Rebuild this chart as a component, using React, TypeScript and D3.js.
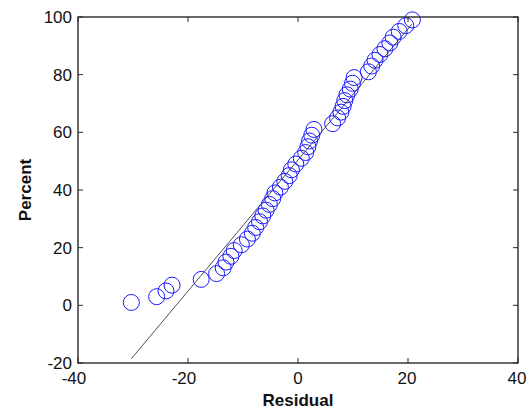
import React from "react";
import * as d3 from "d3";

const percents = [1, 3, 5, 7, 9, 11, 13, 15, 17, 19, 21, 23, 25, 27, 29, 31, 33, 35, 37, 39, 41, 43, 45, 47, 49, 51, 53, 55, 57, 59, 61, 63, 65, 67, 69, 71, 73, 75, 77, 79, 81, 83, 85, 87, 89, 91, 93, 95, 97, 99];
const residuals = [-30.3, -25.7, -24.0, -22.9, -17.6, -14.8, -13.6, -13.1, -12.2, -11.6, -10.3, -9.2, -8.3, -7.7, -7.0, -6.4, -5.8, -5.2, -4.6, -4.2, -3.2, -2.4, -1.6, -1.2, -0.4, 0.6, 1.4, 1.8, 2.1, 2.5, 2.9, 6.3, 7.2, 7.8, 8.2, 8.5, 8.9, 9.5, 9.9, 10.2, 12.8, 13.4, 14.0, 14.9, 15.8, 16.7, 17.3, 18.4, 19.6, 20.8];
const fitLineX = [-30.3, 20.7];
const fitLineY = [-18.5, 97.5];
const xTicks = [-40, -20, 0, 20, 40];
const yTicks = [-20, 0, 20, 40, 60, 80, 100];

const W = 532;
const H = 412;
const left = 78, right = 518, top = 17, bottom = 363;

export default function App() {
  const x = d3.scaleLinear().domain([-40, 40]).range([left, right]);
  const y = d3.scaleLinear().domain([-20, 100]).range([bottom, top]);
  const line = d3.line<number>().x((d, i) => x(fitLineX[i])).y((d, i) => y(fitLineY[i]));
  const font = "Liberation Sans, Arial, Helvetica, sans-serif";
  const axisColor = "#2a2a2a";
  const tickLen = 5;
  return (
    <svg width={W} height={H} style={{ position: "absolute", left: 0, top: 0, background: "#fff" }}>
      <rect x={0} y={0} width={W} height={H} fill="#fff" />
      <path d={line(fitLineY) || ""} fill="none" stroke="#222" strokeWidth={0.8} />
      {residuals.map((r, i) => (
        <circle key={i} cx={x(r)} cy={y(percents[i])} r={8} fill="none" stroke="#1a1aff" strokeWidth={1} />
      ))}
      <rect x={left} y={top} width={right - left} height={bottom - top} fill="none" stroke={axisColor} strokeWidth={1.4} />
      {xTicks.map((t) => (
        <g key={"x" + t}>
          <line x1={x(t)} x2={x(t)} y1={bottom} y2={bottom - tickLen} stroke={axisColor} strokeWidth={1} />
          <line x1={x(t)} x2={x(t)} y1={top} y2={top + tickLen} stroke={axisColor} strokeWidth={1} />
          <text x={x(t)} dx={t < 0 ? -4 : t > 0 ? -1 : 0} y={384} textAnchor="middle" fontFamily={font} fontSize={17} fill="#111">
            {t < 0 ? "-" + Math.abs(t) : String(t)}
          </text>
        </g>
      ))}
      {yTicks.map((t) => (
        <g key={"y" + t}>
          <line x1={left} x2={left + tickLen} y1={y(t)} y2={y(t)} stroke={axisColor} strokeWidth={1} />
          <line x1={right} x2={right - tickLen} y1={y(t)} y2={y(t)} stroke={axisColor} strokeWidth={1} />
          <text x={72} y={y(t)} dy="0.36em" textAnchor="end" fontFamily={font} fontSize={17} fill="#111">
            {t < 0 ? "-" + Math.abs(t) : String(t)}
          </text>
        </g>
      ))}
      <text x={(left + right) / 2} y={406} textAnchor="middle" fontFamily={font} fontSize={17} fontWeight="bold" fill="#111">
        Residual
      </text>
      <text transform={`translate(31,${(top + bottom) / 2}) rotate(-90)`} textAnchor="middle" fontFamily={font} fontSize={17} fontWeight="bold" fill="#111">
        Percent
      </text>
    </svg>
  );
}
